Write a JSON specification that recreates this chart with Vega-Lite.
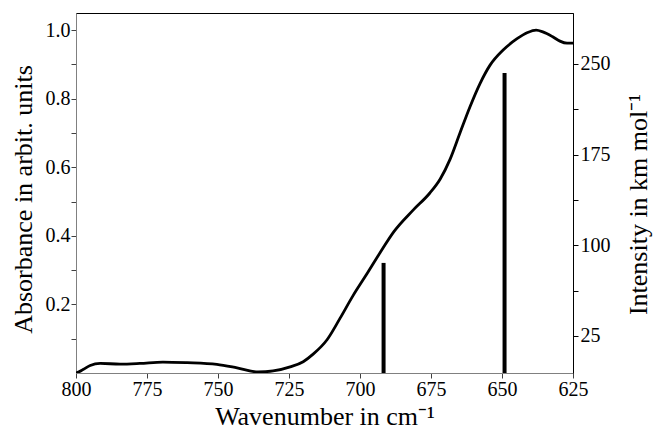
{
  "$schema": "https://vega.github.io/schema/vega-lite/v6.json",
  "width": 497,
  "height": 360,
  "autosize": {"type": "none"},
  "padding": {"left": 76, "top": 13, "right": 81, "bottom": 63},
  "background": "white",
  "config": {
    "view": {"stroke": "black", "strokeWidth": 1},
    "font": "Liberation Serif",
    "axis": {
      "labelFont": "Liberation Serif",
      "titleFont": "Liberation Serif",
      "labelFontSize": 20,
      "titleFontSize": 26,
      "titleFontWeight": "normal",
      "labelColor": "black",
      "titleColor": "black",
      "grid": false,
      "labelOverlap": false,
      "labelFlush": false
    }
  },
  "datasets": {
    "spectrum": [
      {"wavenumber": 800, "absorbance": 0.0},
      {"wavenumber": 799.6, "absorbance": 0.001},
      {"wavenumber": 797.5, "absorbance": 0.01},
      {"wavenumber": 795, "absorbance": 0.022},
      {"wavenumber": 791.5, "absorbance": 0.028},
      {"wavenumber": 784.5, "absorbance": 0.026},
      {"wavenumber": 777.5, "absorbance": 0.028},
      {"wavenumber": 769.4, "absorbance": 0.032},
      {"wavenumber": 760.9, "absorbance": 0.03},
      {"wavenumber": 750.4, "absorbance": 0.025},
      {"wavenumber": 743.3, "absorbance": 0.015},
      {"wavenumber": 735.9, "absorbance": 0.003},
      {"wavenumber": 730.6, "absorbance": 0.006},
      {"wavenumber": 724.6, "absorbance": 0.018},
      {"wavenumber": 720, "absorbance": 0.033},
      {"wavenumber": 716.5, "absorbance": 0.055},
      {"wavenumber": 711.6, "absorbance": 0.097},
      {"wavenumber": 707, "absorbance": 0.16},
      {"wavenumber": 702.5, "absorbance": 0.225},
      {"wavenumber": 697.5, "absorbance": 0.29},
      {"wavenumber": 693, "absorbance": 0.35},
      {"wavenumber": 688, "absorbance": 0.413},
      {"wavenumber": 681.3, "absorbance": 0.475},
      {"wavenumber": 675.4, "absorbance": 0.525},
      {"wavenumber": 671.8, "absorbance": 0.565},
      {"wavenumber": 668.3, "absorbance": 0.623},
      {"wavenumber": 664.8, "absorbance": 0.7},
      {"wavenumber": 661.3, "absorbance": 0.776},
      {"wavenumber": 657.7, "absorbance": 0.845},
      {"wavenumber": 654.2, "absorbance": 0.898},
      {"wavenumber": 649.6, "absorbance": 0.942},
      {"wavenumber": 644.7, "absorbance": 0.975},
      {"wavenumber": 641, "absorbance": 0.993},
      {"wavenumber": 638, "absorbance": 1.0},
      {"wavenumber": 635.6, "absorbance": 0.995},
      {"wavenumber": 632, "absorbance": 0.98},
      {"wavenumber": 629.6, "absorbance": 0.968},
      {"wavenumber": 627.1, "absorbance": 0.962},
      {"wavenumber": 625, "absorbance": 0.962}
    ],
    "sticks": [
      {"wavenumber": 691.7, "intensity": 85.4},
      {"wavenumber": 649.1, "intensity": 242.5}
    ]
  },
  "layer": [
    {
      "data": {"name": "spectrum"},
      "mark": {"type": "line", "color": "black", "strokeWidth": 2.8, "interpolate": "monotone", "clip": true},
      "encoding": {
        "x": {
          "field": "wavenumber",
          "type": "quantitative",
          "scale": {"domain": [625, 800], "reverse": true, "nice": false, "zero": false},
          "axis": {
            "values": [800, 787.5, 775, 762.5, 750, 737.5, 725, 712.5, 700, 687.5, 675, 662.5, 650, 637.5, 625],
            "labelExpr": "datum.value % 25 == 0 ? format(datum.value, 'd') : ''",
            "tickSize": 5,
            "labelPadding": 1,
            "domainColor": "#808080",
            "tickColor": "#404040",
            "title": "Wavenumber in cm⁻¹",
            "titlePadding": 4
          }
        },
        "y": {
          "field": "absorbance",
          "type": "quantitative",
          "scale": {"domain": [0, 1.05], "nice": false, "zero": false},
          "axis": {
            "orient": "left",
            "values": [0.1, 0.2, 0.3, 0.4, 0.5, 0.6, 0.7, 0.8, 0.9, 1.0],
            "labelExpr": "round(datum.value * 10) % 2 == 0 ? format(datum.value, '.1f') : ''",
            "tickSize": 5,
            "labelPadding": 1,
            "domainColor": "#808080",
            "tickColor": "#404040",
            "title": "Absorbance in arbit. units",
            "titlePadding": 9,
            "titleY": 186
          }
        }
      }
    },
    {
      "data": {"name": "sticks"},
      "mark": {"type": "rule", "color": "black", "strokeWidth": 4, "strokeCap": "butt"},
      "encoding": {
        "x": {"field": "wavenumber", "type": "quantitative"},
        "y": {
          "field": "intensity",
          "type": "quantitative",
          "scale": {"domain": [-5.6, 292], "nice": false, "zero": false},
          "axis": {
            "orient": "right",
            "values": [25, 62.5, 100, 137.5, 175, 212.5, 250],
            "labelExpr": "(datum.value - 25) % 75 == 0 ? format(datum.value, 'd') : ''",
            "tickSize": 5,
            "labelPadding": 2,
            "domainColor": "black",
            "tickColor": "black",
            "title": "Intensity in km mol⁻¹",
            "titleAngle": 270,
            "titleBaseline": "top",
            "titlePadding": 15,
            "titleY": 191
          }
        },
        "y2": {"datum": -5.6}
      }
    }
  ],
  "resolve": {"scale": {"y": "independent"}, "axis": {"y": "independent"}}
}
